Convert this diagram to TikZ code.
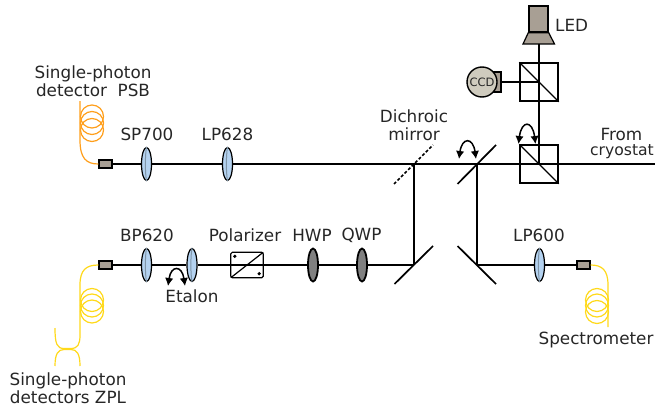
\documentclass[tikz,border=0pt]{standalone}
\usepackage{fontspec}
\setmainfont{DejaVu Sans}
\usetikzlibrary{shapes.geometric,arrows.meta,calc}
\definecolor{lensblue}{HTML}{B4D2F0}
\definecolor{lensedge}{HTML}{7F95A8}
\definecolor{wpgrey}{HTML}{808080}
\definecolor{taupe}{HTML}{A89F94}
\definecolor{ccdgrey}{HTML}{CFCBBE}
\definecolor{fibor}{HTML}{FF9F1C}
\definecolor{fibye}{HTML}{FFD91A}
\tikzset{
  x=1pt,y=-1pt,
  beam/.style={line width=1.5pt,black},
  lab/.style={font=\fontsize{16.8}{18}\selectfont,inner sep=0pt,text=black!85,align=center},
  lensnode/.style={ellipse,draw=black,line width=1.2pt,fill=lensblue,minimum width=10pt,minimum height=33pt,inner sep=0pt},
  wpnode/.style={ellipse,draw=black,line width=1.8pt,fill=wpgrey,minimum width=10pt,minimum height=33pt,inner sep=0pt},
  conn/.style={rectangle,draw=black,line width=1.2pt,fill=taupe,minimum width=13pt,minimum height=8pt,inner sep=0pt},
  cube/.style={rectangle,draw=black,line width=1.5pt,fill=white,minimum width=38pt,minimum height=38pt,inner sep=0pt},
  mirror/.style={line width=1.7pt,black},
  flip/.style={line width=1.5pt,black,{Latex[length=8pt,width=8.5pt]}-{Latex[length=8pt,width=8.5pt]}},
  fibA/.style={line width=1.2pt,fibor},
  fibB/.style={line width=1.2pt,fibye},
  coilo/.style={circle,draw=fibor,line width=1.2pt,minimum size=23pt,inner sep=0pt},
  coily/.style={circle,draw=fibye,line width=1.2pt,minimum size=23pt,inner sep=0pt},
}
\begin{document}
\begin{tikzpicture}
\useasboundingbox (0,0) rectangle (655,412);
% named junctions
\coordinate (dm) at (414,164);
\coordinate (fm) at (477,164);
\coordinate (m1) at (414,265);
\coordinate (m2) at (477,265);
\coordinate (out) at (655,164);
\coordinate (dmA) at (394,184); \coordinate (dmB) at (433,145);
\coordinate (fmA) at (457.5,184); \coordinate (fmB) at (496,145);
\coordinate (m1A) at (394.5,284); \coordinate (m1B) at (433,246);
\coordinate (m2A) at (457.5,246); \coordinate (m2B) at (496,284);
% nodes
\node[conn] (c1) at (105.5,164) {};
\node[lensnode] (sp) at (146.5,164) {};
\node[lensnode] (lp) at (227.5,164) {};
\node[conn] (c2) at (105.5,265) {};
\node[lensnode] (bp) at (146.5,265) {};
\node[lensnode] (et) at (192,265) {};
\node[draw=none,minimum width=32pt,minimum height=25pt,inner sep=0pt] (pol) at (247,265) {};
\node[wpnode] (hwp) at (313,265) {};
\node[wpnode] (qwp) at (362,265) {};
\node[lensnode] (lp6) at (539.5,265) {};
\node[conn] (c3) at (583.5,265) {};
\node[cube] (bs1) at (539,164) {};
\node[cube] (bs2) at (539,82) {};
\node[rectangle,draw=black,line width=1.2pt,fill=taupe,minimum width=8pt,minimum height=20pt,inner sep=0pt] (ccdb) at (497,82) {};
\node[circle,draw=black,line width=1.4pt,fill=ccdgrey,minimum size=30pt,inner sep=0pt,font=\fontsize{11.5}{12}\selectfont,text=black!85] (ccd) at (482,82) {CCD};
\node[rectangle,draw=black,line width=1.4pt,fill=taupe,minimum width=19pt,minimum height=26pt,inner sep=0pt] (ledb) at (538.5,19) {};
\coordinate (ledt) at (539,44);
\draw[line width=1.2pt,fill=taupe] (ledb.south west) -- (ledb.south east) -- (554.5,44) -- (523,44) -- cycle;
% beams
\draw[beam] (c1.east) -- (sp.west);
\draw[beam] (sp.east) -- (lp.west);
\draw[beam] (lp.east) -- (dm) -- (fm) -- (bs1.west);
\draw[beam] (bs1.east) -- (out);
\draw[beam] (c2.east) -- (bp.west);
\draw[beam] (bp.east) -- (et.west);
\draw[beam] (et.east) -- (pol.west);
\draw[beam] (pol.east) -- (hwp.west);
\draw[beam] (hwp.east) -- (qwp.west);
\draw[beam] (qwp.east) -- (m1);
\draw[beam] (m1) -- (dm);
\draw[beam] (fm) -- (m2);
\draw[beam] (m2) -- (lp6.west);
\draw[beam] (lp6.east) -- (c3.west);
\draw[beam] (ledt) -- (bs2.north);
\draw[beam] (bs2.south) -- (bs1.north);
\draw[beam] (bs2.north) -- (bs2.south);
\draw[beam] (bs1.north) -- (bs1.center);
\draw[beam] (bs1.west) -- (bs1.east);
\draw[beam] (ccdb.east) -- (bs2.center);
% cube diagonals
\draw[line width=1.2pt] (bs1.north west) -- (bs1.south east);
\draw[line width=1.2pt] (bs2.north west) -- (bs2.south east);
% lens inner bands
\foreach \n in {sp,lp,bp,et,lp6}{
  \draw[line width=1pt,lensedge] (\n.north) .. controls ($(\n.center)+(-1.5,-8)$) and ($(\n.center)+(-1.5,8)$) .. (\n.south);
}
% polarizer
\draw[line width=1.2pt,rounded corners=1.5pt,fill=white] (pol.north west) -- (pol.north east) -- (pol.south east) -- (pol.south west) -- cycle;
\draw[beam] (pol.west) -- (pol.east);
\draw[line width=1.2pt] (pol.south west) -- (pol.north east);
\fill ($(pol.north west)+(4,4)$) circle (1.8);
\fill ($(pol.south east)+(-4,-4)$) circle (1.8);
% mirrors
\draw[mirror,dash pattern=on 3pt off 2pt] (dmA) -- (dmB);
\draw[mirror] (fmA) -- (fmB);
\draw[mirror] (m1A) -- (m1B);
\draw[mirror] (m2A) -- (m2B);
% flip arrows
\coordinate (e1) at (168,286); \coordinate (e2) at (185,286);
\draw[flip] (e1) .. controls (171,265) and (182,265) .. (e2);
\coordinate (f1) at (459,159); \coordinate (f2) at (476,159);
\draw[flip] (f1) .. controls (462,137) and (473,137) .. (f2);
\coordinate (g1) at (518.5,144); \coordinate (g2) at (535.5,144);
\draw[flip] (g1) .. controls (521.5,120) and (532.5,120) .. (g2);
% fibres
\coordinate (ft) at (80,101);
\draw[fibA] (ft) -- (80,140) .. controls (80,158) and (86,164) .. (c1.west);
\node[coilo] (co1) at (92,116.5) {};
\node[coilo] (co2) at (92,123) {};
\node[coilo] (co3) at (92,130) {};
\coordinate (fb1) at (80,366);
\coordinate (fb2) at (55,328);
\coordinate (fb3) at (55,366);
\draw[fibB] (c2.west) .. controls (86,265) and (80,270) .. (80,285) -- (80,335) .. controls (80,344) and (78,348.5) .. (71,348.5) -- (64,348.5) .. controls (57,348.5) and (55,344) .. (fb2);
\draw[fibB] (fb3) .. controls (55,354) and (58,349.5) .. (64,349.5) -- (71,349.5) .. controls (77,349.5) and (80,354) .. (fb1);
\node[coily] (cy1) at (92,300) {};
\node[coily] (cy2) at (92,305.5) {};
\node[coily] (cy3) at (92,311.5) {};
\coordinate (fr) at (608,327);
\draw[fibB] (c3.east) .. controls (602,265) and (608,270) .. (608,285) -- (fr);
\node[coily] (cz1) at (597,300) {};
\node[coily] (cz2) at (597,305.5) {};
\node[coily] (cz3) at (597,312) {};
% labels
\node[lab] (t1) at (93,81) {Single-photon\\detector\ \ PSB};
\node[lab] (t2) at (147,134.5) {SP700};
\node[lab] (t3) at (227.5,134.5) {LP628};
\node[lab] (t4) at (414,125) {Dichroic\\mirror};
\node[lab,anchor=west] (t5) at (555,25) {LED};
\node[lab] (t6) at (621.5,134.5) {From};
\node[lab,font=\fontsize{15.6}{18}\selectfont] (t6b) at (622,152) {cryostat};
\node[lab] (t7) at (147,235) {BP620};
\node[lab] (t8) at (245,235) {Polarizer};
\node[lab] (t9) at (312,235) {HWP};
\node[lab] (t10) at (361.5,235) {QWP};
\node[lab] (t11) at (539,235) {LP600};
\node[lab] (t12) at (192,296.5) {Etalon};
\node[lab] (t13) at (596,340.5) {Spectrometer};
\node[lab] (t14) at (68,388) {Single-photon\\detectors ZPL};
\end{tikzpicture}
\end{document}
